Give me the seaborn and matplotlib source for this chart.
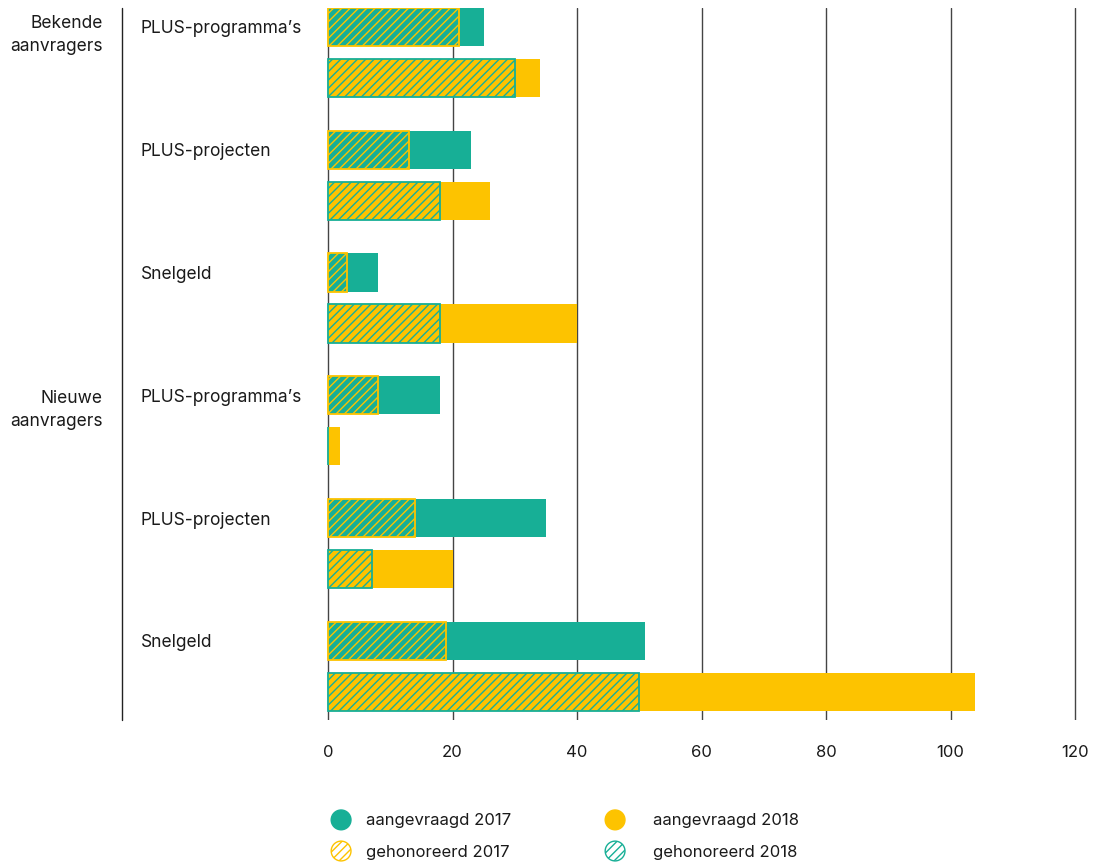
import pandas as pd
import matplotlib
matplotlib.use("Agg")
import matplotlib.pyplot as plt
import matplotlib.patches as mpatches
from matplotlib.lines import Line2D
from matplotlib.legend_handler import HandlerPatch
from matplotlib import transforms
import seaborn as sns

# Data
groups = ["Bekende\naanvragers", "Nieuwe\naanvragers"]
categories = ["PLUS-programma’s", "PLUS-projecten", "Snelgeld"]
years = ["2017", "2018"]
requested_2017 = [25, 23, 8, 18, 35, 51]
requested_2018 = [34, 26, 40, 2, 20, 104]
honoured_2017 = [21, 13, 3, 8, 14, 19]
honoured_2018 = [30, 18, 18, 0, 7, 50]
x_ticks = [0, 20, 40, 60, 80, 100, 120]

TEAL = "#17AF96"
YELLOW = "#FDC300"
INK = "#1a1a1a"
HATCH = "////"

sns.set_theme(style="white")
plt.rcParams["font.family"] = ["Inter", "DejaVu Sans"]
plt.rcParams["hatch.linewidth"] = 1.0
plt.rcParams["text.color"] = INK

rows = [f"{g}|{c}" for g in groups for c in categories]
df = pd.DataFrame({
    "row": rows * 2,
    "year": [years[0]] * len(rows) + [years[1]] * len(rows),
    "requested": requested_2017 + requested_2018,
    "honoured": honoured_2017 + honoured_2018,
})

fig = plt.figure(figsize=(11.04, 8.68), dpi=100)
W, H = 1104, 868
px = 6.225  # pixels per unit on x
left = 328 - px
right = 1075 + px
ax = fig.add_axes([left / W, 1 - 720 / H, (right - left) / W, 712 / H])

bar_width = 0.83
sns.barplot(data=df, x="requested", y="row", hue="year", order=rows,
            hue_order=years, palette=[TEAL, YELLOW], saturation=1,
            width=bar_width, gap=0.25, linewidth=0, errorbar=None,
            legend=False, orient="y", ax=ax)
sns.barplot(data=df, x="honoured", y="row", hue="year", order=rows,
            hue_order=years, palette=[YELLOW, TEAL], saturation=1,
            width=bar_width, gap=0.25, linewidth=1.3, errorbar=None,
            legend=False, orient="y", ax=ax)

# honoured bars: transparent with hatch in the contrasting colour
for cont, col in zip(ax.containers[2:], [YELLOW, TEAL]):
    for p in cont.patches:
        p.set_facecolor("none")
        p.set_edgecolor(col)
        p.set_hatch(HATCH)
        p.set_linewidth(1.3)

ax.set_xlim(-1, 121)
ax.set_ylim(5.436, -0.362)
ax.set_xticks(x_ticks)
ax.set_yticks([])
ax.set_xlabel("")
ax.set_ylabel("")
ax.grid(axis="x", color="#444444", lw=1)
ax.grid(axis="y", visible=False)
ax.set_axisbelow(True)
for s in ax.spines.values():
    s.set_visible(False)
ax.tick_params(axis="x", length=0, pad=18, labelsize=12, labelcolor=INK)

# row and group labels
trans = transforms.blended_transform_factory(fig.transFigure, ax.transData)
offset = bar_width / 4
for i, row in enumerate(rows):
    ax.text(141 / W, i - offset, row.split("|")[1], transform=trans,
            ha="left", va="center_baseline", fontsize=12.5, color=INK)
for j, (g, dy) in enumerate(zip(groups, [-0.1, -0.04])):
    ax.text(103 / W, j * len(categories) - offset + dy, g, transform=trans,
            ha="right", va="top", fontsize=12.5, color=INK, linespacing=1.45)

fig.add_artist(Line2D([122 / W, 122 / W], [1 - 8 / H, 1 - 720 / H],
                      transform=fig.transFigure, color="#222222", lw=1))


# legend with round markers
def make_circle(legend, orig_handle, xdescent, ydescent, width, height, fontsize):
    r = min(width, height) / 2
    return mpatches.Circle((-xdescent + width / 2, -ydescent + height / 2), r)


handler = HandlerPatch(patch_func=make_circle)
legend_cols = [
    [mpatches.Patch(facecolor=TEAL, edgecolor=TEAL, label="aangevraagd 2017"),
     mpatches.Patch(facecolor="white", edgecolor=YELLOW, hatch=HATCH,
                    label="gehonoreerd 2017")],
    [mpatches.Patch(facecolor=YELLOW, edgecolor=YELLOW, label="aangevraagd 2018"),
     mpatches.Patch(facecolor="white", edgecolor=TEAL, hatch=HATCH,
                    label="gehonoreerd 2018")],
]
for x0, pad, handles in zip([329, 603], [0.8, 1.55], legend_cols):
    fig.legend(handles=handles, loc="upper left",
               bbox_to_anchor=(x0 / W, 1 - 810 / H),
               handler_map={mpatches.Patch: handler}, frameon=False,
               fontsize=12, handlelength=1.45, handleheight=1.45,
               handletextpad=pad, labelspacing=0.68, borderpad=0,
               borderaxespad=0)

fig.savefig("out.png", dpi=100)
